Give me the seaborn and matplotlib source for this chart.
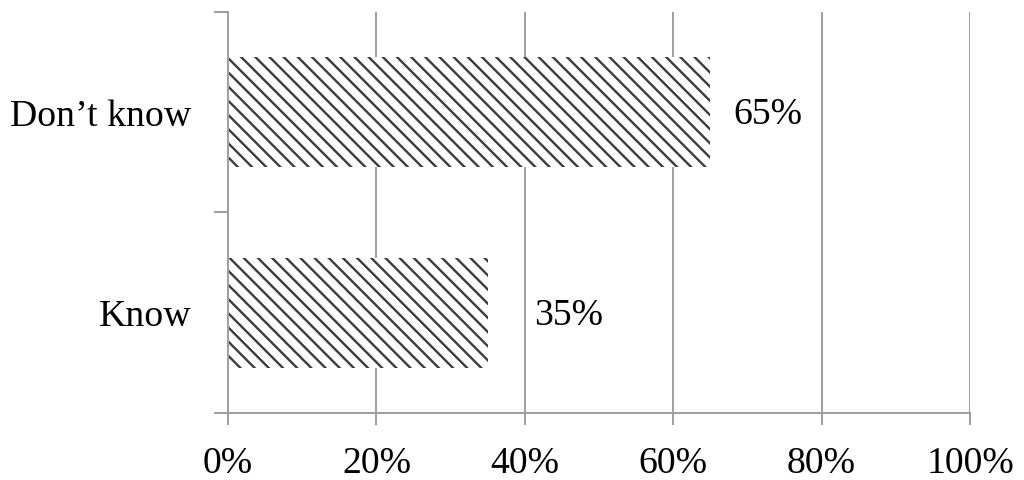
import matplotlib
matplotlib.use("Agg")
import matplotlib.pyplot as plt
import seaborn as sns
import pandas as pd
from matplotlib.ticker import FixedLocator

categories = ["Don\u2019t know", "Know"]
values = [65, 35]
xticks = [0, 20, 40, 60, 80, 100]
xtick_labels = ["0%", "20%", "40%", "60%", "80%", "100%"]
value_labels = ["65%", "35%"]
label_offsets_pt = [19.5, 39.5]

sns.set_theme(style="white")
plt.rcParams["font.family"] = ["Liberation Serif", "DejaVu Serif"]
plt.rcParams["hatch.linewidth"] = 2.0
plt.rcParams["hatch.color"] = "#3c3c3c"

DPI = 85
fig = plt.figure(figsize=(1024 / DPI, 480 / DPI), dpi=DPI)
ax = fig.add_axes([228 / 1024, 1 - 413 / 480, (970 - 228) / 1024, (413 - 12) / 480])

df = pd.DataFrame({"cat": categories, "val": values})
sns.barplot(data=df, x="val", y="cat", orient="h", color="white", width=0.55, ax=ax)
for p in ax.patches:
    p.set_facecolor("white")
    p.set_hatch("\\\\")
    p.set_edgecolor("#3c3c3c")
    p.set_linewidth(0)

ax.set_xlim(0, 100)
ax.set_ylim(1.5, -0.5)
ax.set_xticks(xticks)
ax.set_xticklabels(xtick_labels)
ax.yaxis.set_minor_locator(FixedLocator([-0.5, 0.5, 1.5]))
ax.set_xlabel("")
ax.set_ylabel("")

gray = "#a0a0a0"
ax.grid(axis="x", color=gray, linewidth=1.7)
ax.grid(axis="y", visible=False)
ax.set_axisbelow(True)
for s in ["top", "right"]:
    ax.spines[s].set_visible(False)
for s in ["left", "bottom"]:
    ax.spines[s].set_color(gray)
    ax.spines[s].set_linewidth(1.7)

ax.tick_params(axis="x", which="major", length=10, width=1.7, color=gray,
               labelsize=32, pad=18, bottom=True, labelcolor="black")
ax.tick_params(axis="y", which="major", length=0, labelsize=32, pad=31, left=True,
               labelcolor="black")
ax.tick_params(axis="y", which="minor", length=12, width=1.7, color=gray, left=True)

for p, lab, off in zip(ax.patches, value_labels, label_offsets_pt):
    ax.annotate(lab, xy=(p.get_width(), p.get_y() + p.get_height() / 2),
                xytext=(off, -2.5), textcoords="offset points",
                ha="left", va="center", fontsize=32, color="black")

fig.savefig("out.png", dpi=DPI)
